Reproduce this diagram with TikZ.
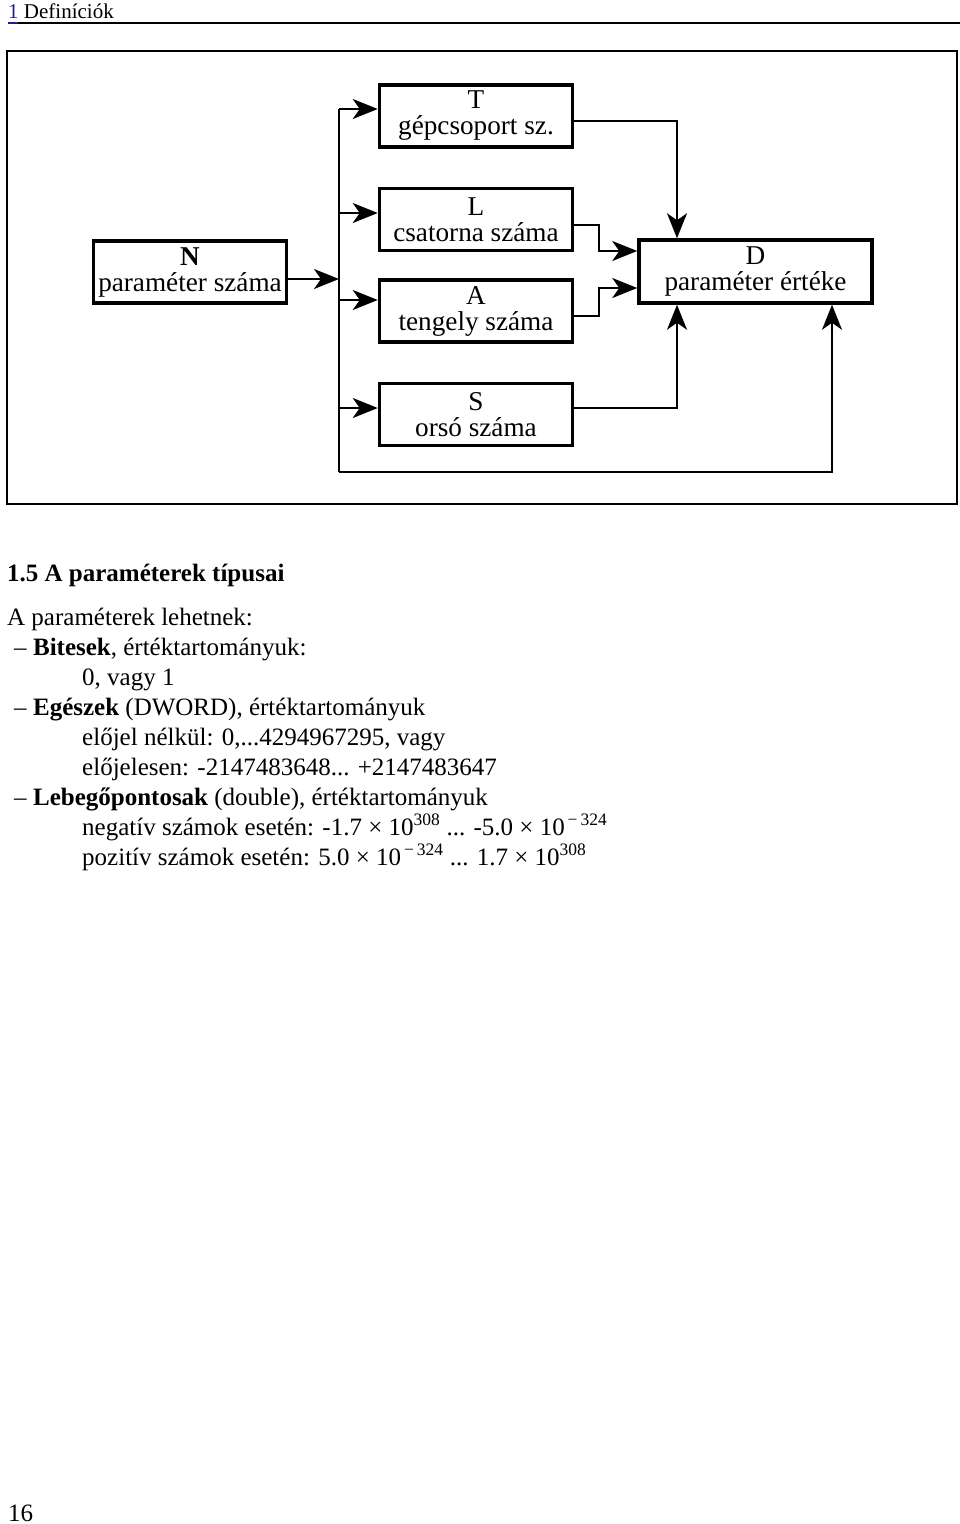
\documentclass[tikz,border=0pt]{standalone}
\usepackage{fontspec}
\setmainfont{Liberation Serif}
\usetikzlibrary{arrows.meta}
\definecolor{linkblue}{RGB}{30,30,140}
\begin{document}
\begin{tikzpicture}[x=1pt,y=-1pt,
  box/.style={draw,line width=3.5pt,minimum width=193pt,minimum height=62pt,inner sep=0pt,align=center,
    font=\fontsize{27.2}{26}\selectfont},
  conn/.style={line width=2pt},
  arr/.style={conn,-{Stealth[length=25pt,width=20pt,inset=7pt]}},
  txt/.style={anchor=base west,inner sep=0pt,font=\fontsize{25}{30}\selectfont}]
\useasboundingbox (0,0) rectangle (960,1524);
% header
\node[anchor=base west,inner sep=0pt,font=\fontsize{21}{24}\selectfont] (hdr) at (8,18) {\textcolor{linkblue}{1}\hspace{0.25em}Definíciók};
\draw[linkblue,line width=2pt] (8,22.5) -- (18,22.5);
\coordinate (hl) at (18,23); \coordinate (hr) at (960,23);
\draw[line width=1.6pt] (hl) -- (hr);
% frame
\draw[line width=2pt] (7,51) rectangle (957,504);
% boxes
\node[box] (N) at (190,272) {\textbf{N}\\paraméter száma};
\node[box] (T) at (476,116) {T\\gépcsoport sz.};
\node[box] (L) at (476,219.5) {L\\csatorna száma};
\node[box] (A) at (476,311) {A\\tengely száma};
\node[box] (S) at (476,414.5) {S\\orsó száma};
\node[box,minimum width=233pt,minimum height=63pt] (D) at (755.5,271.5) {D\\paraméter értéke};
% trunk coordinates
\coordinate (tT) at (339,109);
\coordinate (tL) at (339,213);
\coordinate (tN) at (339,279);
\coordinate (tA) at (339,300);
\coordinate (tS) at (339,408);
\coordinate (tB) at (339,472);
\coordinate (bR) at (832,472);
\draw[conn] (tT) -- (tB);
\draw[arr] (tT) -- (tT -| T.west);
\draw[arr] (tL) -- (tL -| L.west);
\draw[arr] (tA) -- (tA -| A.west);
\draw[arr] (tS) -- (tS -| S.west);
\draw[arr] (tN -| N.east) -- (tN);
\draw[arr] (tB) -- (bR) -- (bR |- D.south);
% T to D
\coordinate (tj) at (677,121);
\draw[arr] (tj -| T.east) -- (tj) -- (tj |- D.north);
% L to D
\coordinate (lj) at (599,225);
\coordinate (lj2) at (599,251);
\draw[arr] (lj -| L.east) -- (lj) -- (lj2) -- (lj2 -| D.west);
% A to D
\coordinate (aj) at (599,316);
\coordinate (aj2) at (599,288);
\draw[arr] (aj -| A.east) -- (aj) -- (aj2) -- (aj2 -| D.west);
% S to D
\coordinate (sj) at (677,408);
\draw[arr] (sj -| S.east) -- (sj) -- (sj |- D.south);
% text
\node[txt] (h) at (7,581) {\textbf{1.5 A paraméterek típusai}};
\node[txt] (l1) at (7,625) {A paraméterek lehetnek:};
\node[txt] (l2) at (14,655) {– \textbf{Bitesek}, értéktartományuk:};
\node[txt] (l3) at (82,685) {0, vagy 1};
\node[txt] (l4) at (14,715) {– \textbf{Egészek} (DWORD), értéktartományuk};
\node[txt] (l5) at (82,745) {előjel nélkül: 0,...4294967295, vagy};
\node[txt] (l6) at (82,775) {előjelesen: -2147483648... +2147483647};
\node[txt] (l7) at (14,805) {– \textbf{Lebegőpontosak} (double), értéktartományuk};
\node[txt] (l8) at (82,835) {negatív számok esetén: -1.7 × 10\textsuperscript{308} ... -5.0 × 10\textsuperscript{\,−\,324}};
\node[txt] (l9) at (82,865) {pozitív számok esetén: 5.0 × 10\textsuperscript{\,−\,324} ... 1.7 × 10\textsuperscript{308}};
\node[txt] (pg) at (8,1521) {16};
\end{tikzpicture}
\end{document}
